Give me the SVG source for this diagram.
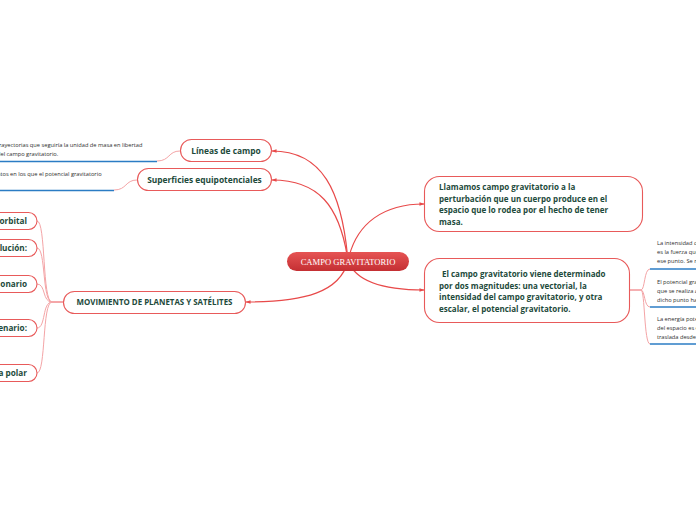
<svg xmlns="http://www.w3.org/2000/svg" width="696" height="520" viewBox="0 0 696 520">
<defs>
<linearGradient id="cg" x1="0" y1="0" x2="0" y2="1">
<stop offset="0" stop-color="#e65454"/>
<stop offset="1" stop-color="#c42f33"/>
</linearGradient>
<marker id="tip" viewBox="0 0 6 6" refX="5.5" refY="3" markerWidth="5" markerHeight="5" orient="auto" markerUnits="userSpaceOnUse">
<path d="M0,0.8 L6,3 L0,5.2 Z" fill="#e84a4a"/>
</marker>
<style>
.box{fill:#ffffff;stroke:#e85a5a;stroke-width:1.1}
.t{font-family:"Open Sans","DejaVu Sans",sans-serif;font-weight:700;fill:#1d4a3b}
.s{font-family:"Open Sans","DejaVu Sans",sans-serif;font-size:5.7px;fill:#2e2e2e}
.main{fill:none;stroke:#e84a4a;stroke-width:1.2}
.sub{fill:none;stroke:#f4a4a6;stroke-width:1}
.ul{stroke:#2b7cc4;stroke-width:1.6}
</style>
</defs>
<rect width="696" height="520" fill="#ffffff"/>
<g id="connectors">
<path class="main" d="M348,261 C342,190 322,151 272,151" marker-end="url(#tip)"/>
<path class="main" d="M348,261 C340,205 318,180 272,180" marker-end="url(#tip)"/>
<path class="main" d="M348,261 C340,292 305,302 246,302" marker-end="url(#tip)"/>
<path class="main" d="M348,261 C356,222 385,204 424,204" marker-end="url(#tip)"/>
<path class="main" d="M348,261 C356,282 385,290 424,290" marker-end="url(#tip)"/>
<path class="sub" d="M180,151 C168,151 170,161 157,161"/>
<path class="sub" d="M137,180 C125,180 127,190 114,190"/>
<path class="sub" d="M63,302 L52,302 C42,302 46,221 37,221"/>
<path class="sub" d="M63,302 L52,302 C42,302 46,248 37,248"/>
<path class="sub" d="M63,302 L52,302 C42,302 46,284 37,284"/>
<path class="sub" d="M63,302 L52,302 C42,302 46,328 37,328"/>
<path class="sub" d="M63,302 L52,302 C42,302 46,373 37,373"/>
<path class="sub" d="M629,290 L641,290 C645,290 644,269 650,269"/>
<path class="sub" d="M629,290 L641,290 C645,290 644,307 650,307"/>
<path class="sub" d="M629,290 L641,290 C645,290 644,344 650,344"/>
</g>
<g id="center">
<rect x="287" y="252" width="122" height="19" rx="9.5" fill="url(#cg)"/>
<text x="348" y="264.5" text-anchor="middle" font-family="Liberation Serif, serif" font-size="8.6" fill="#ffffff">CAMPO GRAVITATORIO</text>
</g>
<g id="n-llamamos">
<rect class="box" x="424.5" y="176.5" width="218" height="55" rx="15"/>
<text class="t" font-size="8"><tspan x="439" y="190">Llamamos campo gravitatorio a la</tspan><tspan x="439" y="201.7">perturbación que un cuerpo produce en el</tspan><tspan x="439" y="213.4">espacio que lo rodea por el hecho de tener</tspan><tspan x="439" y="225.1">masa.</tspan></text>
</g>
<g id="n-elcampo">
<rect class="box" x="424.5" y="258.5" width="205" height="64" rx="15"/>
<text class="t" font-size="8"><tspan x="442" y="277">El campo gravitatorio viene determinado</tspan><tspan x="439" y="288.6">por dos magnitudes: una vectorial, la</tspan><tspan x="439" y="300.2">intensidad del campo gravitatorio, y otra</tspan><tspan x="439" y="311.8">escalar, el potencial gravitatorio.</tspan></text>
</g>
<g id="n-r1">
<text class="s"><tspan x="657" y="245">La intensidad del campo</tspan><tspan x="657" y="254">es la fuerza que actúa</tspan><tspan x="657" y="263">ese punto. Se mide</tspan></text>
<line class="ul" x1="650" y1="269" x2="696" y2="269"/>
</g>
<g id="n-r2">
<text class="s"><tspan x="657" y="284">El potencial gravitatorio</tspan><tspan x="657" y="293">que se realiza al</tspan><tspan x="657" y="302">dicho punto hasta</tspan></text>
<line class="ul" x1="650" y1="307" x2="696" y2="307"/>
</g>
<g id="n-r3">
<text class="s"><tspan x="657" y="321">La energía potencial</tspan><tspan x="657" y="330">del espacio es el</tspan><tspan x="657" y="339">traslada desde el</tspan></text>
<line class="ul" x1="650" y1="344" x2="696" y2="344"/>
</g>
<g id="n-lineas">
<rect class="box" x="180.5" y="139.5" width="91" height="22" rx="11"/>
<text class="t" x="226" y="154" text-anchor="middle" font-size="8.4">Líneas de campo</text>
</g>
<g id="n-lineas-sub">
<text class="s"><tspan x="-3" y="147">trayectorias  que seguiría la unidad de masa en libertad</tspan><tspan x="-3" y="156">del campo gravitatorio.</tspan></text>
<line class="ul" x1="0" y1="161.5" x2="157" y2="161.5"/>
</g>
<g id="n-superficies">
<rect class="box" x="137.5" y="168.5" width="134" height="22" rx="11"/>
<text class="t" x="204.5" y="183" text-anchor="middle" font-size="8.4">Superficies equipotenciales</text>
</g>
<g id="n-superficies-sub">
<text class="s" x="-10" y="176">puntos en los que el potencial gravitatorio</text>
<line class="ul" x1="0" y1="190.5" x2="114" y2="190.5"/>
</g>
<g id="n-movimiento">
<rect class="box" x="63.5" y="291.5" width="182" height="22" rx="11"/>
<text class="t" x="154.5" y="305" text-anchor="middle" font-size="7.9">MOVIMIENTO DE PLANETAS Y SATÉLITES</text>
</g>
<g id="n-m1">
<rect class="box" x="-60" y="212.5" width="97" height="17" rx="8.5"/>
<text class="t" x="27" y="224" text-anchor="end" font-size="8.2">orbital</text>
</g>
<g id="n-m2">
<rect class="box" x="-60" y="239.5" width="97" height="17" rx="8.5"/>
<text class="t" x="27" y="251" text-anchor="end" font-size="8.2">lución:</text>
</g>
<g id="n-m3">
<rect class="box" x="-60" y="275.5" width="97" height="17" rx="8.5"/>
<text class="t" x="27" y="287" text-anchor="end" font-size="8.2">onario</text>
</g>
<g id="n-m4">
<rect class="box" x="-60" y="319.5" width="97" height="17" rx="8.5"/>
<text class="t" x="27" y="331" text-anchor="end" font-size="8.2">enario:</text>
</g>
<g id="n-m5">
<rect class="box" x="-60" y="364.5" width="97" height="17" rx="8.5"/>
<text class="t" x="27" y="376" text-anchor="end" font-size="8.2">a polar</text>
</g>
</svg>
